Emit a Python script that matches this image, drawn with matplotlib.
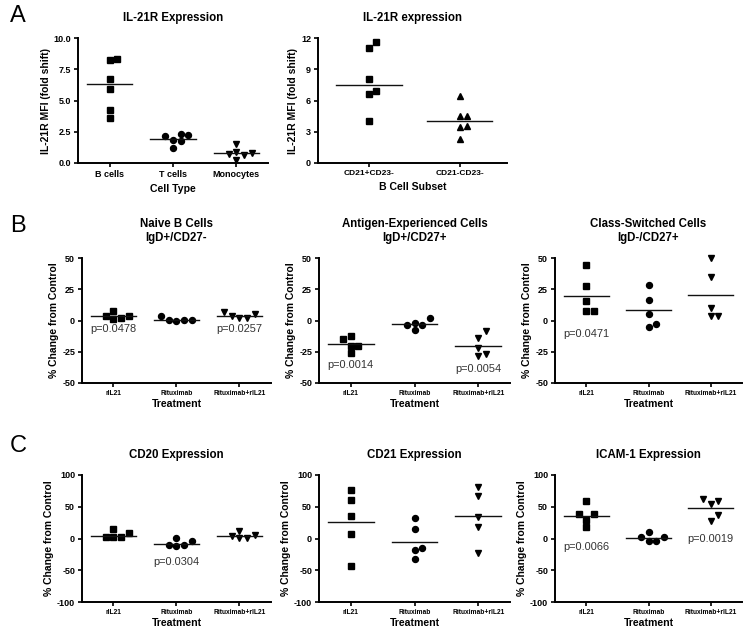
import matplotlib
matplotlib.use('Agg')
import matplotlib.pyplot as plt
import numpy as np

plt.rcParams['font.family'] = ['Liberation Sans', 'DejaVu Sans']

# ---- data ----
cell_types = ['B cells', 'T cells', 'Monocytes']
b_cells = [8.27, 8.35, 6.69, 5.95, 4.24, 3.57]
t_cells = [2.35, 2.13, 1.81, 1.76, 2.24, 1.23]
monocytes = [1.55, 0.88, 0.75, 0.61, 0.80, 0.27]
cell_type_means = [6.3, 1.95, 0.8]

subsets = ['CD21+CD23-', 'CD21-CD23-']
cd21pos = [11.65, 11.07, 8.03, 6.94, 6.59, 4.0]
cd21neg = [6.4, 4.48, 4.51, 3.52, 3.49, 2.34]
subset_means = [7.45, 4.06]

treatments = ['rIL21', 'Rituximab', 'Rituximab+rIL21']

naive_ril21 = [7.7, 3.5, 1.6, 2.1, 3.5]
naive_rtx = [3.7, 0.8, -0.5, 0.8, 0.8]
naive_combo = [6.6, 3.5, 1.9, 2.1, 5.6]
naive_means = [3.5, 0.8, 3.5]
naive_p = ['p=0.0478', None, 'p=0.0257']

ag_ril21 = [-12.0, -14.6, -20.0, -20.3, -26.0]
ag_rtx = [2.0, -3.2, -3.2, -1.9, -7.7]
ag_combo = [-8.5, -13.8, -21.8, -28.0, -26.5]
ag_means = [-19.0, -3.0, -20.0]
ag_p = ['p=0.0014', None, 'p=0.0054']

cs_ril21 = [44.7, 27.5, 15.6, 7.4, 7.4]
cs_rtx = [28.6, 16.4, 5.0, -4.8, -2.9]
cs_combo = [50.0, 35.0, 9.8, 4.0, 4.0]
cs_means = [20.0, 8.5, 20.4]
cs_p = ['p=0.0471', None, None]

cd20_ril21 = [14.7, 2.6, 1.6, 1.6, 9.0]
cd20_rtx = [0.5, -10.5, -12.0, -10.5, -4.2]
cd20_combo = [12.0, 4.7, 0.5, 0.5, 5.8]
cd20_means = [4.7, -7.9, 4.2]
cd20_p = [None, 'p=0.0304', None]

cd21_ril21 = [76.8, 60.0, 35.3, 6.3, -43.7]
cd21_rtx = [32.6, 14.2, -14.7, -18.4, -32.6]
cd21_combo = [81.0, 67.4, 34.2, 17.4, -22.6]
cd21_means = [26.3, -5.3, 35.3]
cd21_p = [None, None, None]

icam_ril21 = [59.5, 38.4, 38.4, 29.0, 17.4]
icam_rtx = [9.5, 2.6, -3.7, -3.7, 2.6]
icam_combo = [58.4, 54.2, 62.0, 27.4, 36.3]
icam_means = [35.8, 1.0, 47.4]
icam_p = ['p=0.0066', None, 'p=0.0019']

W, H = 747, 631
fig = plt.figure(figsize=(W / 100, H / 100), dpi=100)


def add_ax(x0, x1, y0, y1):
    return fig.add_axes([x0 / W, (H - y1) / H, (x1 - x0) / W, (y1 - y0) / H])


def swarm(vals, xpx, ypx, d=7.6):
    # simple beeswarm so that overlapping points spread sideways
    placed = []
    offs = np.zeros(len(vals))
    for i in np.argsort(vals):
        y = vals[i] * ypx
        for k in [0, 1, -1, 2, -2, 3, -3]:
            x = k * d
            if all((x - px) ** 2 + (y - py) ** 2 >= 0.9 * d * d for px, py in placed):
                break
        placed.append((x, y))
        offs[i] = x / xpx
    return offs


def panel(ax, groups, means, labels, markers, ylim, yticks, yfmt, xlim,
          ylabel, xlabel, title, ticksize, xlpad, pvals=None, pyoff=None):
    ax.set_xlim(*xlim)
    ax.set_ylim(*ylim)
    bb = ax.get_window_extent()
    xpx = bb.width / (xlim[1] - xlim[0])
    ypx = bb.height / (ylim[1] - ylim[0])
    for i, (g, m, mk) in enumerate(zip(groups, means, markers)):
        g = np.array(g)
        off = swarm(g, xpx, ypx)
        ax.plot(i + off, g, mk, color='black', ms=4.3, ls='none', clip_on=False)
        ax.plot([i - 0.36, i + 0.36], [m, m], color='#111111', lw=1.0)
        if pvals is not None and pvals[i]:
            ax.text(i, pyoff[i], pvals[i], ha='center', va='center',
                    fontsize=7.9, color='#333333')
    for s in ['top', 'right']:
        ax.spines[s].set_visible(False)
    for s in ['left', 'bottom']:
        ax.spines[s].set_linewidth(1.4)
    ax.set_xticks(range(len(labels)))
    ax.set_xticklabels(labels, fontsize=ticksize, fontweight='bold')
    ax.set_yticks(yticks)
    ax.set_yticklabels([yfmt.format(v) for v in yticks], fontsize=6.5, fontweight='bold')
    ax.tick_params(direction='out', length=3, width=1.2, pad=2)
    ax.set_ylabel(ylabel, fontsize=7.5, fontweight='bold', labelpad=2)
    ax.set_xlabel(xlabel, fontsize=7.6, fontweight='bold', labelpad=xlpad)
    ax.set_title(title, fontsize=8.3, fontweight='bold', pad=12, linespacing=1.25)


# ---- row A ----
ax = add_ax(78, 268, 38, 163)
panel(ax, [b_cells, t_cells, monocytes], cell_type_means, cell_types,
      ['s', 'o', 'v'], (0, 10), [0, 2.5, 5, 7.5, 10], '{:.1f}', (-0.5, 2.5),
      'IL-21R MFI (fold shift)', 'Cell Type', 'IL-21R Expression', 6.5, 4)

ax = add_ax(318, 507, 38, 163)
panel(ax, [cd21pos, cd21neg], subset_means, subsets,
      ['s', '^'], (0, 12), [0, 3, 6, 9, 12], '{:.0f}', (-0.56, 1.52),
      'IL-21R MFI (fold shift)', 'B Cell Subset', 'IL-21R expression', 6.0, 4)

# ---- row B ----
b_specs = [
    (82, 271, [naive_ril21, naive_rtx, naive_combo], naive_means, naive_p,
     [-7, None, -7], 'Naive B Cells\nIgD+/CD27-'),
    (319, 510, [ag_ril21, ag_rtx, ag_combo], ag_means, ag_p,
     [-36, None, -39], 'Antigen-Experienced Cells\nIgD+/CD27+'),
    (555, 742, [cs_ril21, cs_rtx, cs_combo], cs_means, cs_p,
     [-11, None, None], 'Class-Switched Cells\nIgD-/CD27+'),
]
for x0, x1, groups, means, pv, py, title in b_specs:
    ax = add_ax(x0, x1, 258, 383)
    panel(ax, groups, means, treatments, ['s', 'o', 'v'], (-50, 50),
          [-50, -25, 0, 25, 50], '{:.0f}', (-0.5, 2.5),
          '% Change from Control', 'Treatment', title, 4.8, 1.5, pv, py)

# ---- row C ----
c_specs = [
    (82, 271, [cd20_ril21, cd20_rtx, cd20_combo], cd20_means, cd20_p,
     [None, -37, None], 'CD20 Expression'),
    (319, 510, [cd21_ril21, cd21_rtx, cd21_combo], cd21_means, cd21_p,
     [None, None, None], 'CD21 Expression'),
    (555, 742, [icam_ril21, icam_rtx, icam_combo], icam_means, icam_p,
     [-13, None, 0], 'ICAM-1 Expression'),
]
for x0, x1, groups, means, pv, py, title in c_specs:
    ax = add_ax(x0, x1, 475, 602)
    panel(ax, groups, means, treatments, ['s', 'o', 'v'], (-100, 100),
          [-100, -50, 0, 50, 100], '{:.0f}', (-0.5, 2.5),
          '% Change from Control', 'Treatment', title, 4.8, 1.5, pv, py)

# panel letters
for letter, y in [('A', 16), ('B', 226), ('C', 446)]:
    fig.text(18 / W, 1 - y / H, letter, fontsize=17, ha='center', va='center')

fig.savefig('out.png', dpi=100)
